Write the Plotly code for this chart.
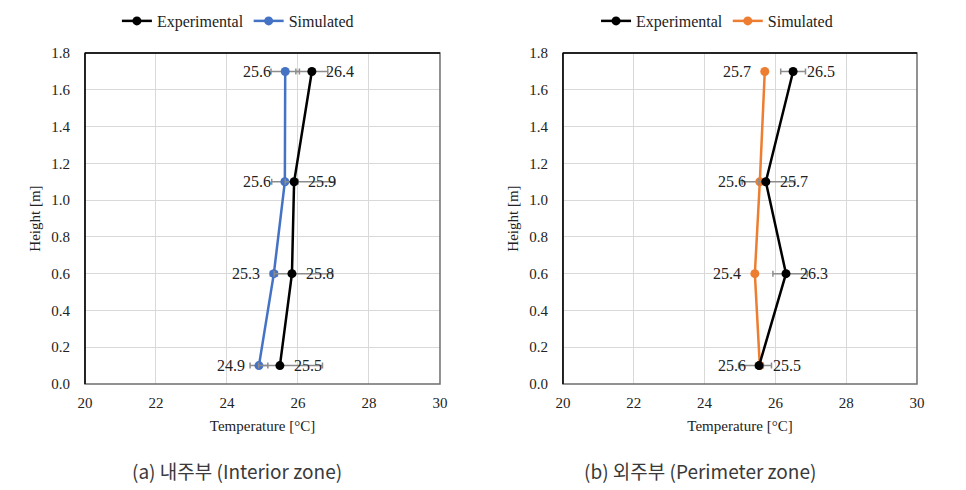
import plotly.graph_objects as go

# heights of the measuring points [m]
heights = [0.1, 0.6, 1.1, 1.7]

# (a) interior zone
exp_a = [25.49, 25.83, 25.89, 26.39]
sim_a = [24.90, 25.32, 25.63, 25.64]
exp_a_plus = [1.20, 1.15, 1.15, 0.45]
exp_a_minus = [0.60, 0.50, 0.25, 0.45]
sim_a_plus = [0.25, 0.10, 0.37, 0.40]
sim_a_minus = [0.25, 0.10, 0.37, 0.40]

# (b) perimeter zone
exp_b = [25.54, 26.30, 25.73, 26.50]
sim_b = [25.56, 25.42, 25.56, 25.70]
exp_b_plus = [0.35, 0.60, 0.82, 0.35]
exp_b_minus = [0.10, 0.37, 0.20, 0.35]
sim_b_plus = [0.10, 0.00, 0.10, 0.00]
sim_b_minus = [0.60, 0.00, 0.50, 0.00]

x_ticks = [20, 22, 24, 26, 28, 30]
y_ticks = [0.0, 0.2, 0.4, 0.6, 0.8, 1.0, 1.2, 1.4, 1.6, 1.8]
captions = ["(a) 내주부 (Interior zone)", "(b) 외주부 (Perimeter zone)"]

SERIF = "Liberation Serif"
GRAY_ERR = "#8c8c8c"

fig = go.Figure()


def add_panel(n, exp, sim, ep, em, sp, sm, sim_color, legend):
    xa = "x" if n == 1 else "x%d" % n
    ya = "y" if n == 1 else "y%d" % n
    fig.add_trace(go.Scatter(
        x=sim, y=heights, xaxis=xa, yaxis=ya, name="Simulated",
        mode="lines+markers", legend=legend, legendrank=2,
        line=dict(color=sim_color, width=2.5),
        marker=dict(size=9, color=sim_color),
        error_x=dict(type="data", symmetric=False, array=sp, arrayminus=sm,
                     color=GRAY_ERR, thickness=1.5, width=3),
    ))
    fig.add_trace(go.Scatter(
        x=exp, y=heights, xaxis=xa, yaxis=ya, name="Experimental",
        mode="lines+markers", legend=legend, legendrank=1,
        line=dict(color="black", width=2.5),
        marker=dict(size=9, color="black"),
        error_x=dict(type="data", symmetric=False, array=ep, arrayminus=em,
                     color=GRAY_ERR, thickness=1.5, width=3),
    ))
    # data labels: simulated on the left, experimental on the right
    for xv, yv in zip(sim, heights):
        fig.add_annotation(x=xv, y=yv, xref=xa, yref=ya, text="%.1f" % xv,
                           showarrow=False, xanchor="right", xshift=-12,
                           font=dict(family=SERIF, size=16, color="#222"))
    for xv, yv in zip(exp, heights):
        fig.add_annotation(x=xv, y=yv, xref=xa, yref=ya, text="%.1f" % xv,
                           showarrow=False, xanchor="left", xshift=12,
                           font=dict(family=SERIF, size=16, color="#222"))
    # plot area border: grey right/bottom, black left/top
    fig.add_shape(type="rect", xref=xa + " domain", yref=ya + " domain",
                  x0=0, x1=1, y0=0, y1=1, line=dict(color="#6e6e6e", width=1.5))
    fig.add_shape(type="line", xref=xa + " domain", yref=ya + " domain",
                  x0=0, x1=0, y0=0, y1=1, line=dict(color="black", width=1.5))
    fig.add_shape(type="line", xref=xa + " domain", yref=ya + " domain",
                  x0=0, x1=1, y0=1, y1=1, line=dict(color="black", width=1.5))


add_panel(1, exp_a, sim_a, exp_a_plus, exp_a_minus, sim_a_plus, sim_a_minus,
          "#4472C4", "legend")
add_panel(2, exp_b, sim_b, exp_b_plus, exp_b_minus, sim_b_plus, sim_b_minus,
          "#ED7D31", "legend2")

xaxis_style = dict(range=[20, 30], tickvals=x_ticks, showgrid=True,
                   gridcolor="#d9d9d9", gridwidth=1, zeroline=False,
                   ticks="", ticklabelstandoff=8, automargin=False,
                   tickfont=dict(family=SERIF, size=15, color="#222"),
                   title=dict(text="Temperature [°C]", standoff=10,
                              font=dict(family=SERIF, size=15, color="#222")))
yaxis_style = dict(range=[0, 1.8], tickvals=y_ticks, tickformat=".1f",
                   showgrid=True, gridcolor="#d9d9d9", gridwidth=1,
                   zeroline=False, ticks="", ticklabelstandoff=14,
                   automargin=False,
                   tickfont=dict(family=SERIF, size=15, color="#222"),
                   title=dict(text="Height [m]", standoff=6,
                              font=dict(family=SERIF, size=15, color="#222")))

leg = dict(orientation="h", yanchor="middle", y=0.9735, xanchor="center",
           font=dict(family=SERIF, size=16, color="#222"),
           bgcolor="rgba(0,0,0,0)", itemwidth=30)

fig.update_layout(
    width=966, height=490,
    margin=dict(l=0, r=0, t=0, b=0, autoexpand=False),
    paper_bgcolor="white", plot_bgcolor="white",
    xaxis=dict(domain=[0.0797, 0.4472], anchor="y", **xaxis_style),
    yaxis=dict(domain=[0.2327, 0.908], anchor="x", **yaxis_style),
    xaxis2=dict(domain=[0.5745, 0.941], anchor="y2", **xaxis_style),
    yaxis2=dict(domain=[0.2327, 0.908], anchor="x2", **yaxis_style),
    legend=dict(x=0.238, **leg),
    legend2=dict(x=0.734, **leg),
)

for cx, text in zip([0.237, 0.716], captions):
    fig.add_annotation(x=cx, y=0.057, xref="paper", yref="paper", text=text,
                       showarrow=False, xanchor="center", yanchor="middle",
                       font=dict(family="Noto Sans CJK KR", size=19, color="#3a3a3a"))

fig.write_html("out.html")
